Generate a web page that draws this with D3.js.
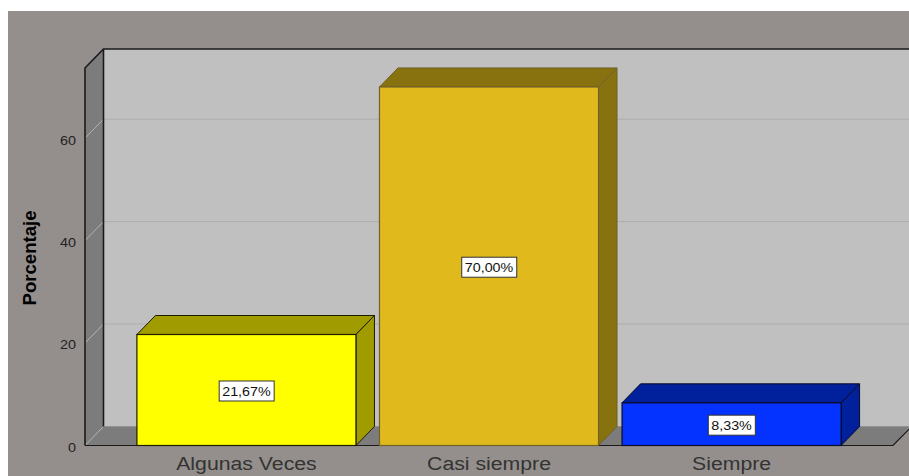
<!DOCTYPE html>
<html>
<head>
<meta charset="utf-8">
<script src="https://cdn.jsdelivr.net/npm/d3@7"></script>
<style>
  html, body { margin: 0; padding: 0; background: #fff; }
  svg { display: block; }
</style>
</head>
<body>
<div id="chart"></div>
<script>
const categories = ['Algunas Veces', 'Casi siempre', 'Siempre'];
const percentages = [21.67, 70.0, 8.33];
const percentLabels = ['21,67%', '70,00%', '8,33%'];
const yTicks = [0, 20, 40, 60];
const yLabel = 'Porcentaje';

const w = 909;
const h = 476;
const depthX = 18.5;
const depthY = 19;
const plotLeft = 85;
const plotRight = 893;
const plotBottom = 445.5;
const plotTop = 68;

const faceColor = d3.scaleOrdinal(categories, ['#ffff00', '#e0ba1c', '#0433ff']);
const sideColor = d3.scaleOrdinal(categories, ['#a09c00', '#87720f', '#00209c']);
const edgeColor = d3.scaleOrdinal(categories, ['#1c1c00', '#6f6128', '#0a0a28']);

const scaleX = d3.scaleBand().domain(categories).range([plotLeft, plotRight]).paddingInner(0.097).paddingOuter(0.214);
const scaleY = d3.scaleLinear().domain([0, 73.7]).range([plotBottom, plotTop]);

const svg = d3.select('#chart').append('svg').attr('width', w).attr('height', h);

// stretches a text horizontally, the picture has wide letters
const stretch = (sel, k) => sel.each(function () {
  d3.select(this)
    .attr('textLength', this.getComputedTextLength() * k)
    .attr('lengthAdjust', 'spacingAndGlyphs');
});

// chart background
svg.append('rect').attr('x', 8).attr('y', 11).attr('width', w - 8).attr('height', h - 11).attr('fill', '#948f8c');

// back wall, left wall, floor
const backX = plotLeft + depthX;
const backBottom = plotBottom - depthY;
const backTop = plotTop - depthY;

svg.append('rect')
  .attr('x', backX).attr('y', backTop)
  .attr('width', w - backX).attr('height', backBottom - backTop)
  .attr('fill', '#c0c0c0');

svg.append('path')
  .attr('d', `M${plotLeft},${plotBottom}L${backX},${backBottom}H${w}L${plotRight},${plotBottom}Z`)
  .attr('fill', '#7c7c7c');

svg.append('path')
  .attr('d', `M${plotLeft},${plotBottom}V${plotTop}L${backX},${backTop}V${backBottom}Z`)
  .attr('fill', '#7c7c7c');

// grid lines
const grid = svg.append('g').selectAll('g').data(yTicks.filter((d) => d > 0)).enter().append('g');
grid.append('line')
  .attr('x1', backX).attr('x2', w)
  .attr('y1', (d) => scaleY(d) - depthY).attr('y2', (d) => scaleY(d) - depthY)
  .attr('stroke', '#adadad').attr('stroke-width', 1);
svg.append('g').selectAll('line').data(yTicks).enter().append('line')
  .attr('x1', plotLeft).attr('x2', backX)
  .attr('y1', (d) => scaleY(d)).attr('y2', (d) => scaleY(d) - depthY)
  .attr('stroke', '#b4b4b4').attr('stroke-width', 1);

// frame lines
svg.append('path')
  .attr('d', `M${plotLeft},${plotBottom}V${plotTop}L${backX},${backTop}H${w}M${backX},${backTop}V${backBottom}`)
  .attr('fill', 'none').attr('stroke', '#1a1a1a').attr('stroke-width', 1.6);
svg.append('path')
  .attr('d', `M${plotLeft},${plotBottom}H${plotRight}L${plotRight + depthX},${backBottom}`)
  .attr('fill', 'none').attr('stroke', '#1a1a1a').attr('stroke-width', 1.2);

// y axis
const axisY = d3.axisLeft(scaleY).tickValues(yTicks).tickSize(0).tickPadding(9);
const gy = svg.append('g').attr('transform', `translate(${plotLeft}, 2)`).call(axisY);
gy.select('.domain').remove();
gy.selectAll('text').attr('font-family', 'Liberation Sans').attr('font-size', 12).attr('fill', '#222').call(stretch, 1.2);

// x axis
const axisX = d3.axisBottom(scaleX).tickSize(0).tickPadding(12);
const gx = svg.append('g').attr('transform', `translate(0, ${plotBottom})`).call(axisX);
gx.select('.domain').remove();
gx.selectAll('text')
  .attr('font-family', 'Liberation Sans').attr('font-size', 18).attr('fill', '#333').call(stretch, 1.18);

// y title
svg.append('text')
  .attr('transform', 'translate(36, 258) rotate(-90)')
  .attr('text-anchor', 'middle')
  .attr('font-family', 'Liberation Sans').attr('font-weight', 'bold').attr('font-size', 18)
  .attr('textLength', 95).attr('lengthAdjust', 'spacingAndGlyphs')
  .attr('fill', '#000')
  .text(yLabel);

// bars
const bars = svg.append('g').selectAll('g').data(categories).enter().append('g');
const barX = (c) => scaleX(c);
const barW = scaleX.bandwidth();
const barY = (c) => scaleY(percentages[categories.indexOf(c)]);

bars.append('path')
  .attr('d', (c) => `M${barX(c)},${barY(c)}l${depthX},${-depthY}h${barW}l${-depthX},${depthY}Z`)
  .attr('fill', (c) => sideColor(c)).attr('stroke', (c) => edgeColor(c));
bars.append('path')
  .attr('d', (c) => `M${barX(c) + barW},${barY(c)}l${depthX},${-depthY}V${plotBottom - depthY}L${barX(c) + barW},${plotBottom}Z`)
  .attr('fill', (c) => sideColor(c)).attr('stroke', (c) => edgeColor(c));
bars.append('rect')
  .attr('x', barX).attr('y', barY)
  .attr('width', barW).attr('height', (c) => plotBottom - barY(c))
  .attr('fill', (c) => faceColor(c)).attr('stroke', (c) => edgeColor(c)).attr('stroke-width', 1.2);

// value labels
const labels = bars.append('g')
  .attr('transform', (c) => `translate(${barX(c) + barW / 2}, ${(barY(c) + plotBottom) / 2 + 1})`);
labels.append('text')
  .attr('text-anchor', 'middle').attr('dy', '0.36em')
  .attr('font-family', 'Liberation Sans').attr('font-size', 13).attr('fill', '#111')
  .text((c) => percentLabels[categories.indexOf(c)])
  .call(stretch, 1.1);
labels.each(function () {
  const b = d3.select(this).select('text').node().getBBox();
  d3.select(this).insert('rect', 'text')
    .attr('x', b.x - 3).attr('y', -10)
    .attr('width', b.width + 6).attr('height', 20)
    .attr('fill', '#fff').attr('stroke', '#333').attr('stroke-width', 1);
});
</script>
</body>
</html>
